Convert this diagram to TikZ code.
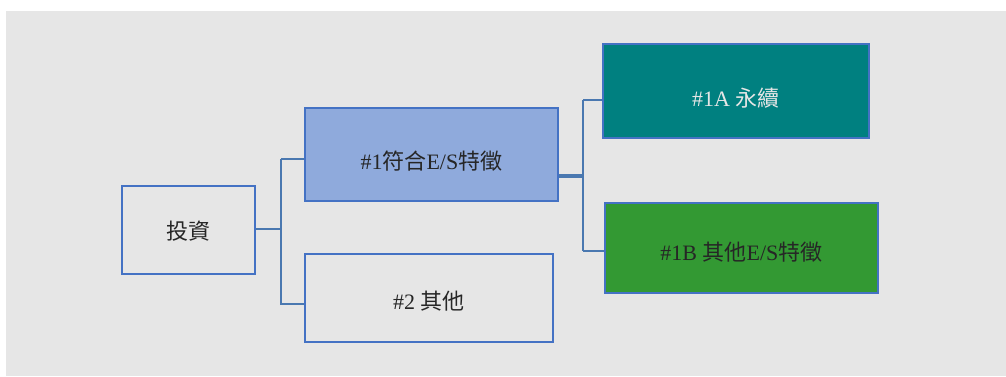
\documentclass[tikz,border=0pt]{standalone}
\usepackage{fontspec}
\setmainfont{Liberation Serif}
\newfontfamily\cjkf{Noto Sans CJK TC}
\definecolor{bg}{HTML}{E6E6E6}
\definecolor{edge}{HTML}{4472C4}
\definecolor{conn}{HTML}{4A78B0}
\definecolor{lblue}{HTML}{8FAADC}
\definecolor{teal1}{HTML}{008080}
\definecolor{green1}{HTML}{339933}
\tikzset{
  box/.style={draw=edge, line width=1.8pt, inner sep=0pt, anchor=north west},
  boxtext/.style={font=\fontsize{22}{26}\selectfont, inner sep=0pt, text=black!85},
  conline/.style={draw=conn, line width=2.6pt, line join=miter},
}
\begin{document}
\begin{tikzpicture}[x=1pt,y=-1pt]
\useasboundingbox (0,0) rectangle (1006,376);
\fill[white] (0,0) rectangle (1006,376);
\fill[bg] (6,11) rectangle (1006,376);
\node[box, fill=bg, minimum width=133pt, minimum height=88pt,
  label={[boxtext, yshift=-1pt]center:{\cjkf 投資}}] (inv) at (121,185) {};
\node[box, fill=lblue, minimum width=253pt, minimum height=93pt,
  label={[boxtext, yshift=-7pt]center:\#1{\cjkf 符合}E/S{\cjkf 特徵}}] (n1) at (304,107) {};
\node[box, fill=bg, minimum width=248pt, minimum height=88pt,
  label={[boxtext, yshift=-3pt]center:\#2 {\cjkf 其他}}] (n2) at (304,253) {};
\node[box, fill=teal1, minimum width=266pt, minimum height=94pt,
  label={[boxtext, text=bg, yshift=-7pt]center:\#1A {\cjkf 永續}}] (n1a) at (602,43) {};
\node[box, fill=green1, minimum width=273pt, minimum height=90pt,
  label={[boxtext, yshift=-4pt]center:\#1B {\cjkf 其他}E/S{\cjkf 特徵}}] (n1b) at (604,202) {};
\coordinate (j1) at (281,229);
\coordinate (j2) at (583,176);
\draw[conline] (inv.east |- j1) -- (j1);
\draw[conline] (j1 |- 0,159) -- (j1 |- 0,305);
\draw[conline] (j1 |- 0,159) -- (n1.west |- 0,159);
\draw[conline] (j1 |- 0,304) -- (n2.west |- 0,304);
\draw[conline, line width=3.6pt] (n1.east |- j2) -- (j2);
\draw[conline] (j2 |- 0,100) -- (j2 |- 0,251);
\draw[conline] (j2 |- 0,100) -- (n1a.west |- 0,100);
\draw[conline] (j2 |- 0,251) -- (n1b.west |- 0,251);
\end{tikzpicture}
\end{document}
